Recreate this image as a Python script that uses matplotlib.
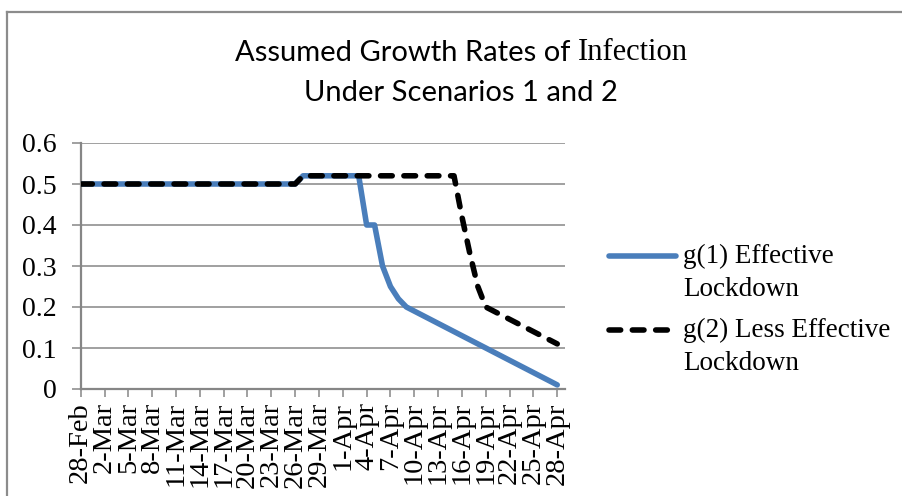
import pandas as pd
import matplotlib
matplotlib.use("Agg")
import matplotlib.pyplot as plt
from matplotlib.lines import Line2D

# daily dates, 28-Feb to 28-Apr 2020
dates = pd.date_range("2020-02-28", "2020-04-28", freq="D")

# g(1) Effective Lockdown
g1 = [0.50] * 28 + [0.52] * 8 + [0.40, 0.40, 0.30, 0.25, 0.22, 0.20,
      0.19, 0.18, 0.17, 0.16, 0.15, 0.14, 0.13, 0.12, 0.11, 0.10,
      0.09, 0.08, 0.07, 0.06, 0.05, 0.04, 0.03, 0.02, 0.01]
# g(2) Less Effective Lockdown
g2 = [0.50] * 28 + [0.52] * 20 + [0.42, 0.33, 0.25, 0.20,
      0.19, 0.18, 0.17, 0.16, 0.15, 0.14, 0.13, 0.12, 0.11]

labels = ["g(1) Effective\nLockdown", "g(2) Less Effective\nLockdown"]
yticks = [0, 0.1, 0.2, 0.3, 0.4, 0.5, 0.6]
ytick_labels = ["0", "0.1", "0.2", "0.3", "0.4", "0.5", "0.6"]

W, H = 902, 496
def fx(px):
    return px / W
def fy(py):
    return 1 - py / H

serif = "Liberation Serif"
sans = "Lato"
grey = "#868686"
blue = "#4a7ebb"
lw = 4.0

fig = plt.figure(figsize=(W / 100, H / 100), dpi=100)
fig.patch.set_facecolor("white")

# outer chart border (only top and left edges visible)
fig.add_artist(Line2D([fx(7), fx(7)], [fy(11.5), 0], color="#8c8c8c", lw=1.6))
fig.add_artist(Line2D([fx(7), 1], [fy(11.5), fy(11.5)], color="#8c8c8c", lw=1.6))

ax = fig.add_axes([fx(80.7), fy(389), fx(565.2) - fx(80.7), fy(143) - fy(389)])

x = range(len(dates))
ax.plot(x, g1, color=blue, lw=lw, solid_joinstyle="round", solid_capstyle="round", zorder=3)
ax.plot(x, g2, color="black", lw=lw, dashes=(2.1, 2.1), dash_capstyle="round",
        dash_joinstyle="round", zorder=4)

ax.set_xlim(0, len(dates))
ax.set_ylim(0, 0.6)
ax.set_yticks(yticks)
ax.set_yticklabels(ytick_labels, family=serif, fontsize=20)
ax.set_xticks(list(x)[::3])
ax.set_xticklabels([f"{d.day}-{d:%b}" for d in dates[::3]], rotation=90,
                   family=serif, fontsize=20.5)

ax.tick_params(axis="y", direction="out", length=6.5, width=1.1, color=grey, pad=11)
ax.tick_params(axis="x", direction="out", length=5.5, width=1.1, color=grey, pad=4)
ax.grid(axis="y", color=grey, lw=1.1)
ax.set_axisbelow(True)
for s in ["top", "right"]:
    ax.spines[s].set_visible(False)
for s in ["left", "bottom"]:
    ax.spines[s].set_color(grey)
    ax.spines[s].set_linewidth(1.6)

# title, first line mixes a sans face and a serif word
t1a = fig.text(0, fy(53), "Assumed Growth Rates of ", family=sans, fontsize=21, va="center")
t1b = fig.text(0, fy(53), "Infection", family=serif, fontsize=22, va="center")
fig.text(fx(461), fy(93), "Under Scenarios 1 and 2", family=sans, fontsize=21,
         ha="center", va="center")
fig.canvas.draw()
r = fig.canvas.get_renderer()
wa = t1a.get_window_extent(r).width
wb = t1b.get_window_extent(r).width
x0 = 461 - (wa + wb) / 2
t1a.set_x(fx(x0))
t1b.set_x(fx(x0 + wa))

# legend drawn by hand
handle_y = [256, 330]
line_gap = 33
styles = [dict(color=blue, lw=lw, solid_capstyle="round"),
          dict(color="black", lw=lw, dashes=(2.1, 2.1), dash_capstyle="round")]
for yy, lab, st in zip(handle_y, labels, styles):
    fig.add_artist(Line2D([fx(609), fx(676)], [fy(yy), fy(yy)], **st))
    for i, part in enumerate(lab.split("\n")):
        fig.text(fx(683), fy(yy + i * line_gap), part, family=serif, fontsize=19.5,
                 va="center")

fig.savefig("out.png", dpi=100)
